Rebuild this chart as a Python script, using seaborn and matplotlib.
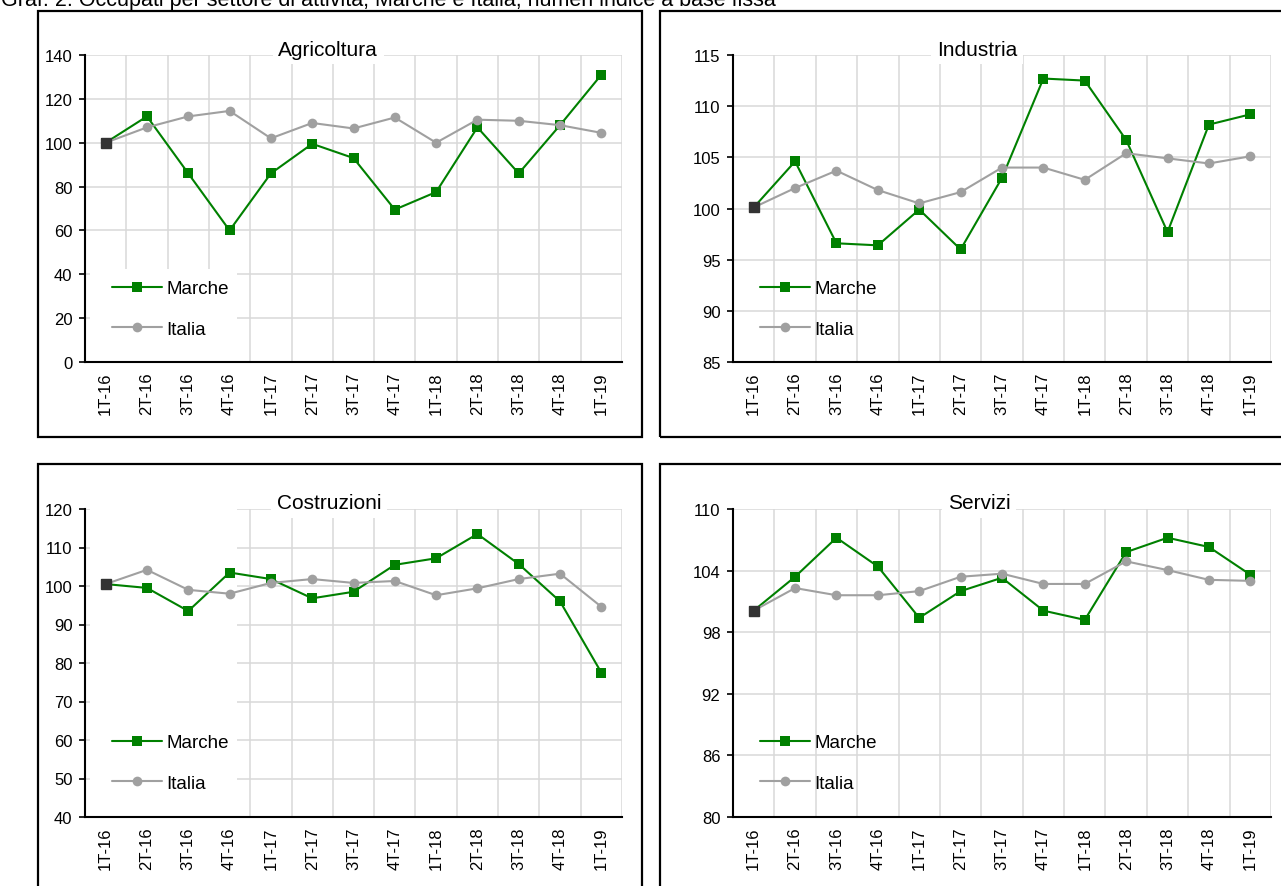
import pandas as pd
import matplotlib
matplotlib.use("Agg")
import matplotlib.pyplot as plt
import seaborn as sns
from matplotlib.patches import Rectangle

trimestri = ["1T-16", "2T-16", "3T-16", "4T-16", "1T-17", "2T-17", "3T-17",
             "4T-17", "1T-18", "2T-18", "3T-18", "4T-18", "1T-19"]

agri_marche = [100, 112, 86, 60, 86, 99.5, 93, 69.5, 77.5, 107, 86, 108, 131]
agri_italia = [100, 107, 112, 114.5, 102, 109, 106.5, 111.5, 100, 110.5, 110, 108, 104.5]

ind_marche = [100.1, 104.6, 96.6, 96.4, 99.9, 96.0, 103.0, 112.7, 112.5, 106.7, 97.7, 108.2, 109.2]
ind_italia = [100.1, 102.0, 103.7, 101.8, 100.5, 101.6, 104.0, 104.0, 102.8, 105.4, 104.9, 104.4, 105.1]

cost_marche = [100.5, 99.5, 93.5, 103.5, 101.8, 96.8, 98.5, 105.5, 107.2, 113.5, 105.7, 96.0, 77.5]
cost_italia = [100.5, 104.2, 99.0, 98.0, 100.8, 101.8, 100.8, 101.3, 97.6, 99.4, 101.8, 103.2, 94.6]

serv_marche = [100.1, 103.4, 107.2, 104.4, 99.4, 102.0, 103.3, 100.1, 99.2, 105.8, 107.2, 106.3, 103.6]
serv_italia = [100.1, 102.3, 101.6, 101.6, 102.0, 103.4, 103.7, 102.7, 102.7, 104.9, 104.05, 103.1, 103.0]

GREEN = "#008000"
GRAY = "#A0A0A0"

sns.set_style("white")
plt.rcParams["font.family"] = ["Liberation Sans", "DejaVu Sans"]
plt.rcParams["text.color"] = "black"
plt.rcParams["xtick.color"] = "black"
plt.rcParams["ytick.color"] = "black"

W, H = 1281, 887
fig = plt.figure(figsize=(W / 100, H / 100), dpi=100)


def frect(l, t, r, b):
    return [l / W, 1 - b / H, (r - l) / W, (b - t) / H]


# (titolo, marche, italia, ylim, passo, area assi, riquadro, centro titolo x)
pannelli = [
    ("Agricoltura", agri_marche, agri_italia, (0, 140), 20,
     (85, 56, 622, 363), (38, 12, 642, 438), 328),
    ("Industria", ind_marche, ind_italia, (85, 115), 5,
     (733, 56, 1271, 363), (660, 12, 1295, 438), 977),
    ("Costruzioni", cost_marche, cost_italia, (40, 120), 10,
     (85, 510, 622, 818), (38, 465, 642, 895), 329),
    ("Servizi", serv_marche, serv_italia, (80, 110), 6,
     (733, 510, 1271, 818), (660, 465, 1295, 895), 979),
]

for titolo, marche, italia, ylim, passo, area, box, tx in pannelli:
    fig.add_artist(Rectangle((box[0] / W, 1 - box[3] / H), (box[2] - box[0]) / W,
                             (box[3] - box[1]) / H, transform=fig.transFigure,
                             fill=False, edgecolor="black", linewidth=1.6))
    l, t, r, b = area
    ax = fig.add_axes(frect(*area))
    df = pd.DataFrame({
        "pos": list(range(len(trimestri))) * 2,
        "valore": marche + italia,
        "serie": ["Marche"] * len(marche) + ["Italia"] * len(italia),
    })
    sns.lineplot(data=df, x="pos", y="valore", hue="serie", style="serie",
                 markers={"Marche": "s", "Italia": "o"}, dashes=False,
                 palette={"Marche": GREEN, "Italia": GRAY},
                 linewidth=1.5, markersize=7, markeredgewidth=0, ax=ax, zorder=3)
    ax.plot(0, marche[0], "s", color="#333333", markersize=7, zorder=4)

    ax.set_xlim(-0.5, len(trimestri) - 0.5)
    ax.set_ylim(*ylim)
    ax.set_yticks(range(ylim[0], ylim[1] + 1, passo))
    ax.set_xticks(range(len(trimestri)))
    ax.set_xticklabels(trimestri, rotation=90)
    ax.set_xticks([i - 0.5 for i in range(len(trimestri) + 1)], minor=True)
    ax.tick_params(axis="x", which="major", length=0, pad=6.5, labelsize=12)
    ax.tick_params(axis="x", which="minor", direction="in", length=4.5, width=1.2,
                   color="black")
    ax.tick_params(axis="y", direction="out", length=4, width=1.2, pad=5,
                   labelsize=12, left=True)
    ax.set_xlabel("")
    ax.set_ylabel("")
    ax.set_axisbelow(True)
    ax.grid(which="minor", axis="x", color="#D9D9D9", linewidth=1.1)
    ax.grid(which="major", axis="y", color="#D9D9D9", linewidth=1.1)
    ax.grid(which="major", axis="x", visible=False)
    for s in ["top", "right"]:
        ax.spines[s].set_visible(False)
    for s in ["left", "bottom"]:
        ax.spines[s].set_color("black")
        ax.spines[s].set_linewidth(1.5)
        ax.spines[s].set_zorder(5)

    def ax_x(px):
        return (px - l) / (r - l)

    def ax_y(py):
        return (b - py) / (b - t)

    # fondo bianco della legenda
    ax.add_patch(Rectangle((ax_x(90), 0), ax_x(237) - ax_x(90), ax_y(270),
                           transform=ax.transAxes, facecolor="white",
                           edgecolor="none", zorder=1.5))
    handles, labels = ax.get_legend_handles_labels()
    ax.legend(handles, labels, loc="upper left",
              bbox_to_anchor=(ax_x(l + 27), ax_y(t + 225)),
              frameon=False, fontsize=13.5, handlelength=2.65,
              handletextpad=0.27, labelspacing=1.25, borderpad=0,
              borderaxespad=0)

    fig.text(tx / W, 1 - (t - 6) / H, titolo, ha="center", va="center",
             fontsize=15,
             bbox=dict(facecolor="white", edgecolor="none", pad=4))

fig.text(1 / W, 1 - 6 / H,
         "Graf. 2. Occupati per settore di attività, Marche e Italia, numeri indice a base fissa",
         ha="left", va="baseline", fontsize=15.5)

fig.savefig("out.png", dpi=100)
